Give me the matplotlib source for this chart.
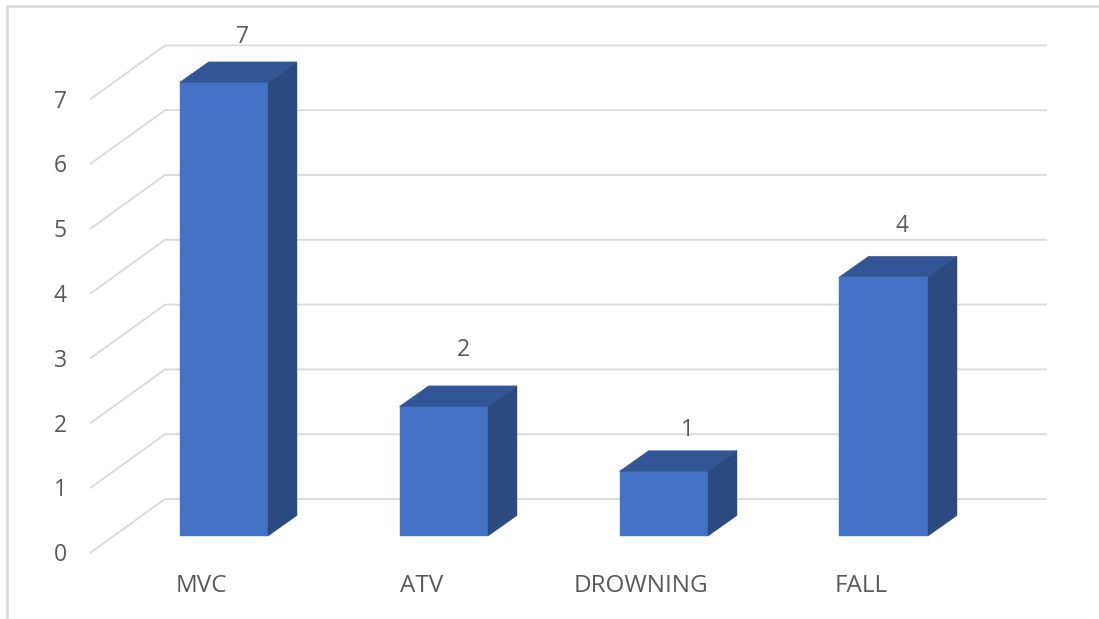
import matplotlib
matplotlib.use("Agg")
import matplotlib.pyplot as plt
from matplotlib.lines import Line2D
from matplotlib.patches import Polygon

categories = ["MVC", "ATV", "DROWNING", "FALL"]
values = [7, 2, 1, 4]
y_ticks = [0, 1, 2, 3, 4, 5, 6, 7]

W, H = 1099, 619
PX_X = 220.0    # pixels per category
PX_Y = 64.8     # pixels per value unit
X0, Y0 = 223.75, 536.0   # pixel position of first category / value 0 on the bar plane

FONT = "Open Sans"
TXT = "#595959"
GRID = "#d9d9d9"
FRONT = "#4472c4"
TOP = "#325596"
SIDE = "#2a4a80"

fig = plt.figure(figsize=(W / 100, H / 100), dpi=100, facecolor="white")
ax = fig.add_axes([0, 0, 1, 1])
ax.set_xlim(-X0 / PX_X, (W - X0) / PX_X)
ax.set_ylim((Y0 - H) / PX_Y, Y0 / PX_Y)
ax.axis("off")

# picture-plane offsets, in data units
half_w = 44.25 / PX_X
bar_dx, bar_dy = 29 / PX_X, 20.5 / PX_Y
back_dy = 37 / PX_Y
front_dy = -17 / PX_Y
grid_left_back = (165 - X0) / PX_X
grid_left_front = (90 - X0) / PX_X
grid_right = (1047 - X0) / PX_X

# outer frame
fig.add_artist(Line2D([7 / W, 7 / W, 1], [0, 1 - 6 / H, 1 - 6 / H], color="#d9d9d9", lw=1.8))

# floor/wall gridlines and value labels
for t in y_ticks:
    ax.plot([grid_left_front, grid_left_back, grid_right],
            [t + front_dy, t + back_dy, t + back_dy],
            color=GRID, lw=1.3, zorder=1, solid_capstyle="butt", solid_joinstyle="miter")
    ax.annotate(str(t), (grid_left_front, t + front_dy), xytext=(-21.5, -1.6),
                textcoords="offset points", ha="center", va="center",
                fontsize=16.5, color=TXT, family=FONT)

# 3-D columns
label_offsets = [(19, 45), (20, 56.5), (24, 41.5), (18, 50.5)]
for i, (c, v) in enumerate(zip(categories, values)):
    l, r = i - half_w, i + half_w
    ax.add_patch(Polygon([(l, 0), (r, 0), (r, v), (l, v)], closed=True, fc=FRONT, ec=FRONT, lw=0.3, zorder=3))
    ax.add_patch(Polygon([(l, v), (r, v), (r + bar_dx, v + bar_dy), (l + bar_dx, v + bar_dy)],
                         closed=True, fc=TOP, ec=TOP, lw=0.3, zorder=3))
    ax.add_patch(Polygon([(r, 0), (r + bar_dx, bar_dy), (r + bar_dx, v + bar_dy), (r, v)],
                         closed=True, fc=SIDE, ec=SIDE, lw=0.3, zorder=3))
    ox, oy = label_offsets[i]
    ax.annotate(str(v), (i, v), xytext=(ox * 0.72, oy * 0.72), textcoords="offset points",
                ha="center", va="center", fontsize=16.5, color=TXT, family=FONT, zorder=4)
    ax.annotate(c, (i, 0), xytext=(-22.5 * 0.72, -50 * 0.72), textcoords="offset points",
                ha="center", va="center", fontsize=17.5, color=TXT, family=FONT, zorder=4)

fig.savefig("out.png", dpi=100, facecolor="white")
